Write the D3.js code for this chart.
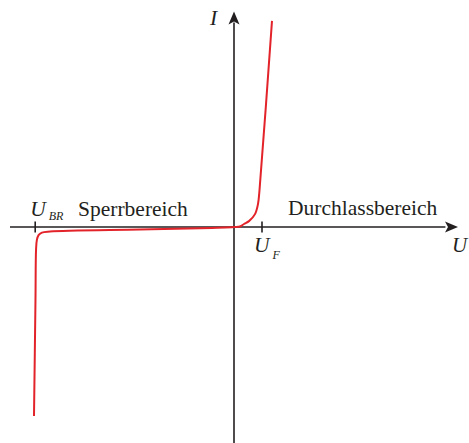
<!DOCTYPE html>
<html>
<head>
<meta charset="utf-8">
<script src="https://cdn.jsdelivr.net/npm/d3@7"></script>
<style>
  html, body { margin: 0; padding: 0; background: #fff; }
  svg { display: block; }
  text { font-family: "Liberation Serif", "Times New Roman", serif; fill: #231f20; }
</style>
</head>
<body>
<div id="chart"></div>
<script>
// Diode characteristic I(U), in arbitrary units
const curveU = [-7.143, -7.09, -7.07, -7.04, -6.98, -6.86, -6.57, -3.36, -1.21, 0, 0.214, 0.357, 0.536, 0.75, 0.857, 0.911, 1.357];
const curveI = [-6.75, -2.61, -0.82, -0.46, -0.29, -0.20, -0.16, -0.09, -0.045, 0, 0.02, 0.107, 0.21, 0.46, 0.82, 1.32, 7.36];

// Marked voltages on the U axis
const tickU = [-7.1, 1];
const tickNames = ["U", "U"];
const tickSubs = ["BR", "F"];

// Region labels
const regionNames = ["Sperrbereich", "Durchlassbereich"];
const regionU = [-5.57, 1.93];

const axisNames = ["U", "I"];

const W = 469, H = 443;
const axisColor = "#231f20", curveColor = "#e3232a";

const x = d3.scaleLinear().domain([-8, 8]).range([10, 458]);
const y = d3.scaleLinear().domain([-8, 8]).range([451, 3]);

const svg = d3.select("#chart").append("svg").attr("width", W).attr("height", H);

// Axes
const x0 = x(0), y0 = y(0);
svg.append("line").attr("x1", x(-8)).attr("x2", x(7.55)).attr("y1", y0).attr("y2", y0)
  .attr("stroke", axisColor).attr("stroke-width", 1.6);
svg.append("line").attr("x1", x0).attr("x2", x0).attr("y1", y(-8)).attr("y2", y(7.3))
  .attr("stroke", axisColor).attr("stroke-width", 1.6);

// Arrow heads
const tipX = x(8), tipY = y(7.7);
svg.append("path")
  .attr("d", `M${tipX},${y0} L${tipX - 13},${y0 - 5.5} L${tipX - 10},${y0} L${tipX - 13},${y0 + 5.5} Z`)
  .attr("fill", axisColor);
svg.append("path")
  .attr("d", `M${x0},${tipY} L${x0 - 5.5},${tipY + 13} L${x0},${tipY + 10} L${x0 + 5.5},${tipY + 13} Z`)
  .attr("fill", axisColor);

// Ticks on the U axis
svg.selectAll("line.tick").data(tickU).enter().append("line")
  .attr("class", "tick")
  .attr("x1", d => x(d)).attr("x2", d => x(d))
  .attr("y1", y0 - 5.5).attr("y2", y0 + 5.5)
  .attr("stroke", axisColor).attr("stroke-width", 1.6);

// Tick labels: U_BR above the axis, U_F below it
const tickLabelPos = [
  { dx: -5, y: 216, subDy: 4 },
  { dx: -8, y: 252, subDy: 7 }
];
tickU.forEach((u, i) => {
  const t = svg.append("text")
    .attr("x", x(u) + tickLabelPos[i].dx).attr("y", tickLabelPos[i].y)
    .attr("font-size", 21.5).attr("font-style", "italic");
  t.append("tspan").text(tickNames[i]);
  t.append("tspan").attr("font-size", 12).attr("dx", 3).attr("dy", tickLabelPos[i].subDy).text(tickSubs[i]);
});

// Region labels
svg.selectAll("text.region").data(regionNames).enter().append("text")
  .attr("class", "region")
  .attr("x", (d, i) => x(regionU[i])).attr("y", (d, i) => i === 0 ? 216 : 215)
  .attr("font-size", 21.5).text(d => d);

// Axis names
svg.append("text").attr("x", 452).attr("y", 252).attr("font-size", 21).attr("font-style", "italic").text(axisNames[0]);
svg.append("text").attr("x", 210).attr("y", 25).attr("font-size", 21.5).attr("font-style", "italic").text(axisNames[1]);

// Characteristic curve
const pts = curveU.map((u, i) => [u, curveI[i]]);
const line = d3.line().x(d => x(d[0])).y(d => y(d[1])).curve(d3.curveCatmullRom.alpha(0.5));
svg.append("path").datum(pts).attr("d", line)
  .attr("fill", "none").attr("stroke", curveColor).attr("stroke-width", 2)
  .attr("stroke-linejoin", "round");
</script>
</body>
</html>
